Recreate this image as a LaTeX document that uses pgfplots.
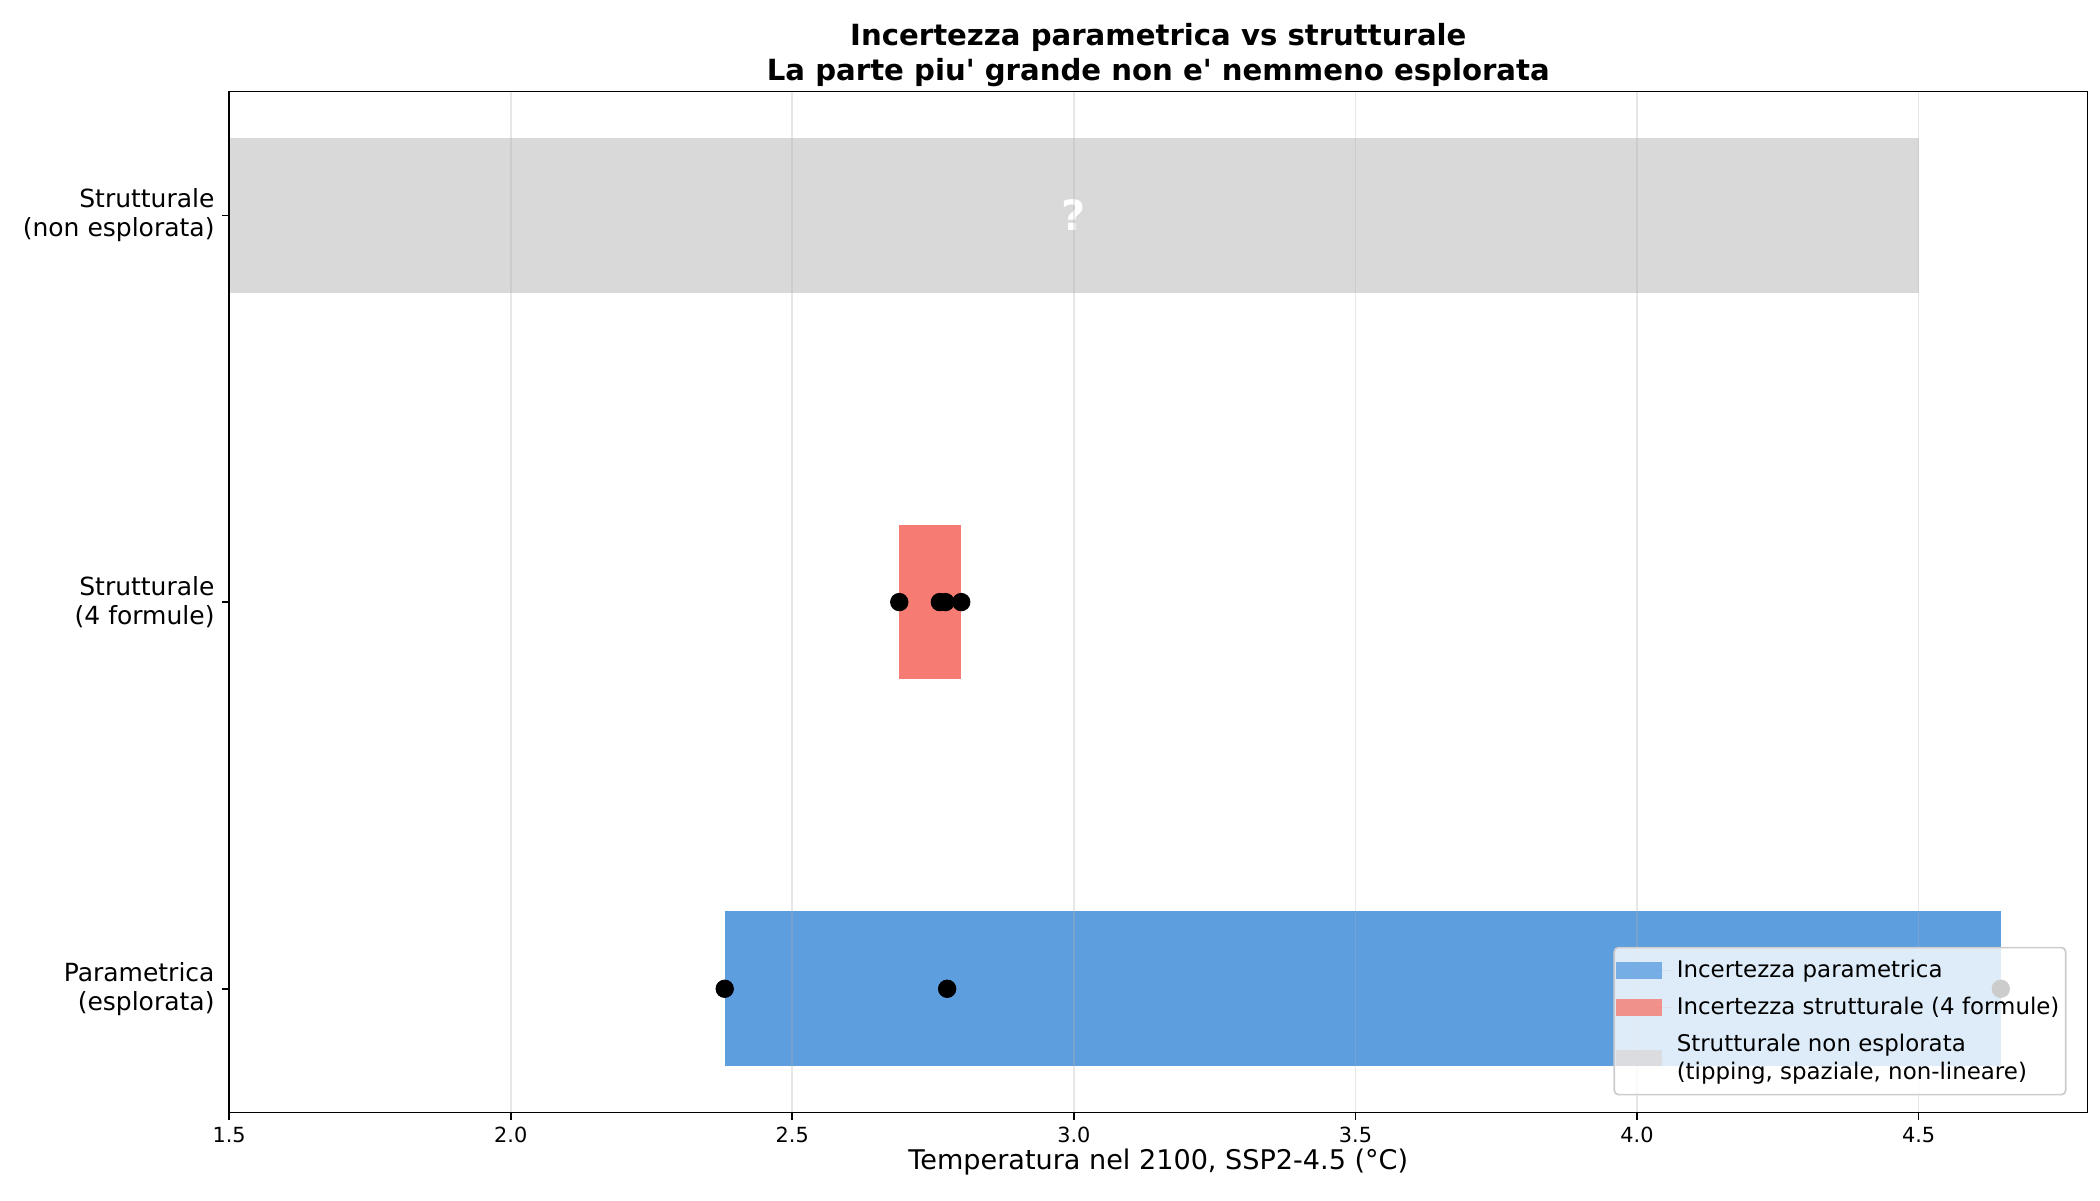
\documentclass[border=0pt]{standalone}
\usepackage{pgfplots}
\pgfplotsset{compat=1.18}
\usepackage{fontspec}
\setmainfont{DejaVu Sans}[Ligatures=TeXOff]

\definecolor{barblue}{HTML}{5D9EDF}
\definecolor{barred}{HTML}{F67B72}
\definecolor{bargray}{HTML}{D9D9D9}
\definecolor{gridgray}{HTML}{B0B0B0}

\begin{document}
\begin{tikzpicture}
\begin{axis}[
  scale only axis,
  width=892pt, height=490pt,
  xmin=1.5, xmax=4.80,
  ymin=-0.32, ymax=2.32,
  axis on top,
  axis line style={line width=0.8pt},
  xtick={1.5,2.0,2.5,3.0,3.5,4.0,4.5},
  xticklabel style={/pgf/number format/.cd,fixed,fixed zerofill,precision=1},
  /pgf/number format/assume math mode=true,
  ticklabel style={font=\fontsize{10}{12}\selectfont},
  ytick={0,1,2},
  yticklabels={Parametrica\\(esplorata),Strutturale\\(4 formule),Strutturale\\(non esplorata)},
  yticklabel style={align=right,font=\fontsize{12}{14}\selectfont},
  tick align=outside,
  tick pos=left,
  major tick length=3.5pt,
  tick style={line width=0.8pt,black},
  xmajorgrids,
  major grid style={gridgray,opacity=0.3,line width=0.8pt},
  xlabel={Temperatura nel 2100, SSP2-4.5 (°C)},
  xlabel style={font=\fontsize{13}{15}\selectfont,yshift=4pt},
  title={\textbf{Incertezza parametrica vs strutturale}\\\textbf{La parte piu' grande non e' nemmeno esplorata}},
  title style={align=center,font=\fontsize{14}{16.5}\selectfont,yshift=-7pt},
  legend cell align=left,
  legend style={at={(0.9887,0.0167)},anchor=south east,
    font=\fontsize{11}{13}\selectfont,
    cells={align=left},
    fill=white,fill opacity=0.8,text opacity=1,draw opacity=1,
    draw=black!20,line width=0.8pt,rounded corners=2pt,
    row sep=4pt,inner xsep=1pt,inner ysep=4pt},
  legend image code/.code={\fill[#1,sharp corners] (0pt,-3.9pt) rectangle (22pt,3.9pt);
    \path (0pt,0pt) -- (27pt,0pt);},
]
\addplot[fill=barblue,draw=none] coordinates {(2.38,-0.2) (4.646,-0.2) (4.646,0.2) (2.38,0.2)} --cycle;
\addlegendentry{Incertezza parametrica}
\addplot[fill=barred,draw=none] coordinates {(2.69,0.8) (2.80,0.8) (2.80,1.2) (2.69,1.2)} --cycle;
\addlegendentry{Incertezza strutturale (4 formule)}
\addplot[fill=bargray,draw=none] coordinates {(1.5,1.8) (4.5,1.8) (4.5,2.2) (1.5,2.2)} --cycle;
\addlegendentry{Strutturale non esplorata\\(tipping, spaziale, non-lineare)}

\addplot[only marks,mark=*,mark size=4.2pt,black,forget plot] coordinates {(2.38,0) (2.775,0) (4.646,0)};
\addplot[only marks,mark=*,mark size=4.2pt,black,forget plot] coordinates {(2.69,1) (2.762,1) (2.772,1) (2.80,1)};

\node[white,font=\fontsize{20}{24}\selectfont\bfseries] at (axis cs:3.0,2) {?};
\end{axis}
\path[use as bounding box] (-110pt,-42pt) rectangle (898pt,534pt);
\end{tikzpicture}
\end{document}
